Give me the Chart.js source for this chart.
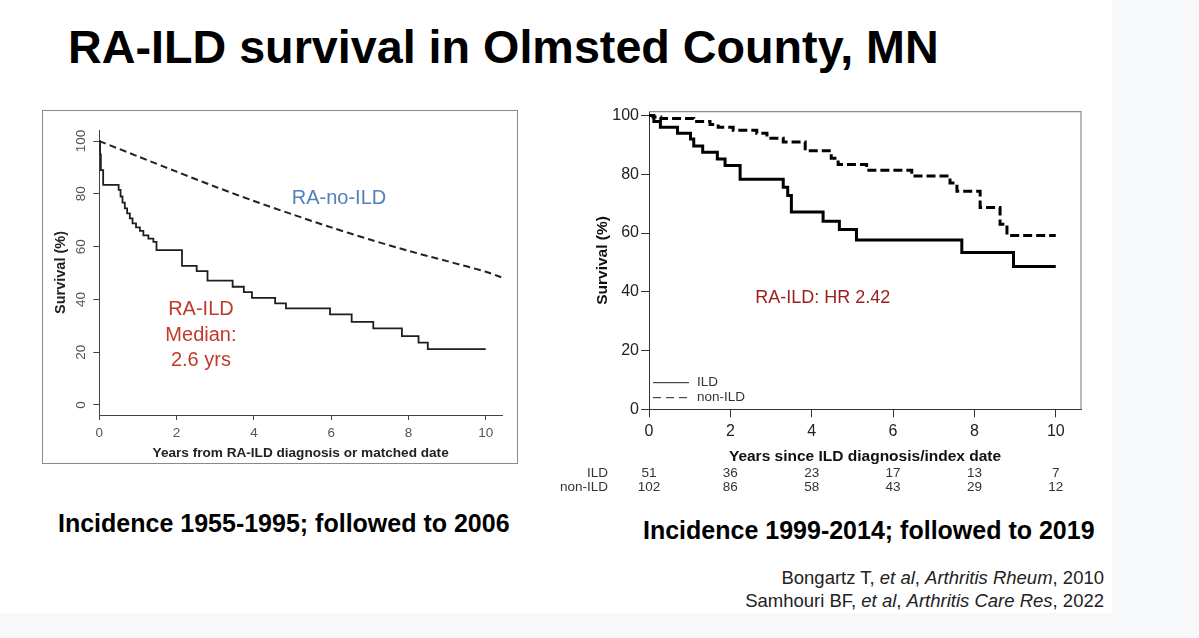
<!DOCTYPE html>
<html>
<head>
<meta charset="utf-8">
<script src="https://cdn.jsdelivr.net/npm/chart.js@4.4.0/dist/chart.umd.min.js"></script>
<style>
  body { margin: 0; width: 1199px; height: 638px; background: #f7f8fa; overflow: hidden;
         font-family: "Liberation Sans", Arial, sans-serif; }
  #slide { position: absolute; left: 0; top: 0; width: 1112px; height: 613px; background: #fff; }
  .abs { position: absolute; white-space: nowrap; line-height: 1; color: #000; }
  #title { left: 68px; top: 24px; font-size: 46.7px; font-weight: bold; }
  #frame { left: 42px; top: 110px; width: 474px; height: 352px; border: 1px solid #8a8a8a; }
  #leftChart { position: absolute; left: 43px; top: 111px; }
  #rightChart { position: absolute; left: 560px; top: 100px; }
  .cap { font-size: 25px; font-weight: bold; }
  #capLeft { left: 58px; top: 511px; }
  #capRight { left: 643px; top: 518px; }
  .cite { left: 600px; width: 504px; text-align: right; font-size: 18.5px; color: #222; }
</style>
</head>
<body>
<div id="slide"></div>
<div class="abs" id="title">RA-ILD survival in Olmsted County, MN</div>
<div class="abs" id="frame"></div>
<canvas id="leftChart" width="474" height="352"></canvas>
<canvas id="rightChart" width="530" height="400"></canvas>
<div class="abs cap" id="capLeft">Incidence 1955-1995; followed to 2006</div>
<div class="abs cap" id="capRight">Incidence 1999-2014; followed to 2019</div>
<div class="abs cite" style="top:569px">Bongartz T, <i>et al</i>, <i>Arthritis Rheum</i>, 2010</div>
<div class="abs cite" style="top:592px">Samhouri BF, <i>et al</i>, <i>Arthritis Care Res</i>, 2022</div>

<script>
Chart.defaults.font.family = '"Liberation Sans", Arial, sans-serif';

// left panel (1955-1995 cohort)
const leftIldYears = [0, 0.02, 0.04, 0.1, 0.5, 0.55, 0.6, 0.66, 0.72, 0.79, 0.86, 0.95, 1.05, 1.14, 1.27, 1.4, 1.48,
                      2.14, 2.52, 2.8, 3.45, 3.74, 3.95, 4.55, 4.83, 5.97, 6.53, 7.09, 7.83, 8.26, 8.5, 10];
const leftIldSurv  = [100, 95, 89, 83.4, 81.5, 79, 76.7, 74.5, 72.6, 70.7, 68.8, 67.3, 66, 64.3, 63, 61.8, 58.7,
                      52.7, 50.7, 47.1, 44.8, 42.8, 40.6, 38.5, 36.6, 34.3, 31.5, 29, 26.1, 23.6, 21.2, 21.2];
const leftNoIldYears = [0, 1, 2, 3, 4, 5, 6, 7, 8, 9, 10, 10.4];
const leftNoIldSurv  = [100, 94.2, 88.4, 82.7, 77.3, 72.2, 67.3, 62.7, 58.4, 54.5, 50.5, 48.4];
const leftXTicks = [0, 2, 4, 6, 8, 10];
const leftYTicks = [0, 20, 40, 60, 80, 100];

// right panel (1999-2014 cohort)
const rightIldYears = [0, 0.12, 0.28, 0.7, 1.02, 1.1, 1.32, 1.68, 1.87, 2.24, 3.3, 3.41, 3.5, 4.28, 4.68, 5.1, 7.69, 8.96, 10];
const rightIldSurv  = [100, 98, 96, 94, 92, 89.6, 87.5, 85.2, 83, 78.3, 75.6, 72.8, 67.2, 64, 61.2, 57.6, 53.4, 48.6, 48.6];
const rightNonYears = [0, 0.1, 0.29, 1.1, 1.5, 1.7, 2.07, 2.65, 2.9, 3.3, 3.84, 4.48, 4.65, 5.35, 6.46, 7.4, 7.57, 8.14, 8.63, 8.8, 10];
const rightNonSurv  = [100, 99.5, 99, 98, 97, 96, 95, 94, 92.3, 91, 88, 85.5, 83.3, 81.4, 79.4, 77, 74.2, 68.7, 63, 59.2, 59.2];
const rightXTicks = [0, 2, 4, 6, 8, 10];
const rightYTicks = [0, 20, 40, 60, 80, 100];

// numbers at risk
const riskYears = [0, 2, 4, 6, 8, 10];
const riskIld = [51, 36, 23, 17, 13, 7];
const riskNonIld = [102, 86, 58, 43, 29, 12];

function pts(xs, ys) {
    return xs.map((x, i) => ({x: x, y: ys[i]}));
}

function fixTicks(list) {
    return function(scale) {
        scale.ticks = list.map(v => ({value: v}));
    };
}

// text notes placed in data coordinates
const notesPlugin = {
    id: 'notes',
    afterDatasetsDraw(chart, args, opts) {
        const ctx = chart.ctx;
        const xs = chart.scales.x, ys = chart.scales.y;
        ctx.save();
        (opts.items || []).forEach(it => {
            ctx.font = it.font;
            ctx.fillStyle = it.color;
            ctx.textAlign = it.align || 'left';
            ctx.textBaseline = 'middle';
            ctx.fillText(it.text, xs.getPixelForValue(it.x), ys.getPixelForValue(it.y));
        });
        ctx.restore();
    }
};

// box, legend and risk table of the right panel
const kmExtras = {
    id: 'kmExtras',
    beforeDatasetsDraw(chart, args, opts) {
        if (!opts.box) return;
        const {ctx, chartArea: a} = chart;
        ctx.save();
        ctx.strokeStyle = '#8c8c8c';
        ctx.lineWidth = 1.2;
        ctx.beginPath();
        ctx.moveTo(a.left, a.top);
        ctx.lineTo(a.right, a.top);
        ctx.lineTo(a.right, a.bottom);
        ctx.stroke();
        ctx.restore();
    },
    afterDraw(chart, args, opts) {
        if (!opts.table) return;
        const {ctx, chartArea: a} = chart;
        const xs = chart.scales.x;
        ctx.save();
        // legend
        ctx.font = '13.5px "Liberation Sans", Arial, sans-serif';
        ctx.textBaseline = 'middle';
        ctx.textAlign = 'left';
        chart.data.datasets.forEach((ds, i) => {
            const y = a.bottom - 26.6 + i * 15;
            ctx.strokeStyle = '#222';
            ctx.lineWidth = 1;
            ctx.setLineDash(ds.borderDash ? [8, 5] : []);
            ctx.beginPath();
            ctx.moveTo(a.left + 4, y);
            ctx.lineTo(a.left + 40, y);
            ctx.stroke();
            ctx.setLineDash([]);
            ctx.fillStyle = '#333';
            ctx.fillText(ds.label, a.left + 48, y);
        });
        // numbers at risk
        ctx.font = '13.5px "Liberation Sans", Arial, sans-serif';
        const rows = [['ILD', riskIld], ['non-ILD', riskNonIld]];
        rows.forEach((r, j) => {
            const y = a.bottom + 63.7 + j * 14;
            ctx.fillStyle = '#333';
            ctx.textAlign = 'right';
            ctx.fillText(r[0], a.left - 41, y);
            ctx.textAlign = 'center';
            r[1].forEach((n, k) => ctx.fillText(String(n), xs.getPixelForValue(riskYears[k]), y));
        });
        ctx.restore();
    }
};

new Chart(document.getElementById('leftChart'), {
    type: 'line',
    data: {
        datasets: [
            {
                label: 'RA-ILD',
                data: pts(leftIldYears, leftIldSurv),
                stepped: true,
                borderColor: '#1e1e1e',
                borderWidth: 1.8,
                pointRadius: 0,
                fill: false
            },
            {
                label: 'RA-no-ILD',
                data: pts(leftNoIldYears, leftNoIldSurv),
                tension: 0.3,
                borderColor: '#222',
                borderWidth: 2,
                borderDash: [7, 4],
                pointRadius: 0,
                fill: false
            }
        ]
    },
    options: {
        responsive: false,
        animation: false,
        layout: {autoPadding: false, padding: {left: 0, right: 15, top: 19, bottom: 0}},
        plugins: {
            legend: {display: false},
            tooltip: {enabled: false},
            notes: {
                items: [
                    {text: 'RA-no-ILD', x: 4.98, y: 78.4, font: '20px "Liberation Sans", Arial', color: '#4f81bd'},
                    {text: 'RA-ILD', x: 2.63, y: 36, font: '20px "Liberation Sans", Arial', color: '#c0392b', align: 'center'},
                    {text: 'Median:', x: 2.63, y: 26.3, font: '20px "Liberation Sans", Arial', color: '#c0392b', align: 'center'},
                    {text: '2.6 yrs', x: 2.63, y: 16.7, font: '20px "Liberation Sans", Arial', color: '#c0392b', align: 'center'}
                ]
            },
            kmExtras: {}
        },
        scales: {
            x: {
                type: 'linear',
                min: 0,
                max: 10.42,
                afterBuildTicks: fixTicks(leftXTicks),
                afterFit: s => { s.height = 48; },
                grid: {display: true, drawOnChartArea: false, drawTicks: true, tickLength: 5, color: '#444'},
                border: {display: true, color: '#444', width: 1},
                ticks: {color: '#555', font: {size: 13.5}, padding: 5, maxRotation: 0},
                title: {display: true, text: 'Years from RA-ILD diagnosis or matched date', color: '#222',
                        font: {size: 13.6, weight: 'bold'}, padding: {top: 0, bottom: 2}}
            },
            y: {
                type: 'linear',
                min: -3.8,
                max: 104.2,
                afterBuildTicks: fixTicks(leftYTicks),
                afterFit: s => { s.width = 56.3; },
                grid: {display: true, drawOnChartArea: false, drawTicks: true, tickLength: 6, color: '#444'},
                border: {display: true, color: '#444', width: 1},
                ticks: {color: '#555', font: {size: 13.5}, padding: 1, minRotation: 90, maxRotation: 90, crossAlign: 'center'},
                title: {display: true, text: 'Survival (%)', color: '#222',
                        font: {size: 14.5, weight: 'bold'}, padding: {top: 9, bottom: 0}}
            }
        }
    },
    plugins: [notesPlugin, kmExtras]
});

new Chart(document.getElementById('rightChart'), {
    type: 'line',
    data: {
        datasets: [
            {
                label: 'ILD',
                data: pts(rightIldYears, rightIldSurv),
                stepped: true,
                borderColor: '#000',
                borderWidth: 3,
                pointRadius: 0,
                fill: false
            },
            {
                label: 'non-ILD',
                data: pts(rightNonYears, rightNonSurv),
                stepped: true,
                borderColor: '#000',
                borderWidth: 3,
                borderDash: [9, 4],
                pointRadius: 0,
                fill: false
            }
        ]
    },
    options: {
        responsive: false,
        animation: false,
        layout: {autoPadding: false, padding: {left: 0, right: 9, top: 9.3, bottom: 0}},
        plugins: {
            legend: {display: false},
            tooltip: {enabled: false},
            notes: {
                items: [
                    {text: 'RA-ILD: HR 2.42', x: 2.61, y: 37.9, font: '18px "Liberation Sans", Arial', color: '#9b1c1c'}
                ]
            },
            kmExtras: {box: true, table: true}
        },
        scales: {
            x: {
                type: 'linear',
                min: 0,
                max: 10.62,
                afterBuildTicks: fixTicks(rightXTicks),
                afterFit: s => { s.height = 90.7; },
                grid: {display: true, drawOnChartArea: false, drawTicks: true, tickLength: 8, color: '#333'},
                border: {display: true, color: '#333', width: 1},
                ticks: {color: '#222', font: {size: 16}, padding: 5, maxRotation: 0},
                title: {display: true, text: 'Years since ILD diagnosis/index date', color: '#111',
                        font: {size: 15.5, weight: 'bold'}, padding: {top: 0, bottom: 33.7}}
            },
            y: {
                type: 'linear',
                min: 0,
                max: 101.35,
                afterBuildTicks: fixTicks(rightYTicks),
                afterFit: s => { s.width = 89; },
                grid: {display: true, drawOnChartArea: false, drawTicks: true, tickLength: 8, color: '#333'},
                border: {display: true, color: '#333', width: 1},
                ticks: {color: '#222', font: {size: 16}, padding: 2},
                title: {display: true, text: 'Survival (%)', color: '#111',
                        font: {size: 15.5, weight: 'bold'}, padding: {top: 33.4, bottom: 0}}
            }
        }
    },
    plugins: [notesPlugin, kmExtras]
});
</script>
</body>
</html>
